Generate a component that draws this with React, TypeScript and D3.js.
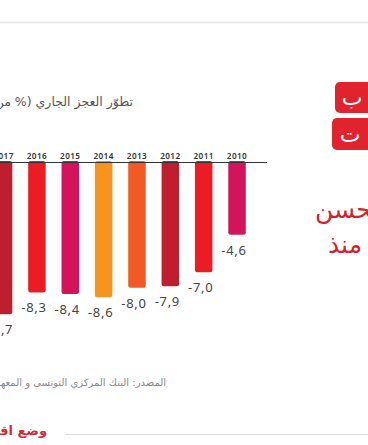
import React from "react";
import * as d3 from "d3";

const years = ["2017", "2016", "2015", "2014", "2013", "2012", "2011", "2010"];
const values = [-9.7, -8.3, -8.4, -8.6, -8.0, -7.9, -7.0, -4.6];
const colors = ["#be1e2d", "#ec1c24", "#d4145a", "#f7941d", "#f15a24", "#be1e2d", "#ec1c24", "#d4145a"];
const labels = ["-9,7", "-8,3", "-8,4", "-8,6", "-8,0", "-7,9", "-7,0", "-4,6"];

const W = 368;
const H = 445;

export default function App() {
  const x = d3.scaleBand<string>().domain(years).range([-13.1, 253.7]).paddingInner(0.475).paddingOuter(0.2375);
  const y = d3.scaleLinear().domain([0, -10]).range([163, 319]);
  const arFont = "'DejaVu Sans', sans-serif";
  const numFont = "'Noto Sans', 'Open Sans', sans-serif";
  return (
    <svg width={W} height={H} style={{ position: "absolute", left: 0, top: 0, background: "#fff" }}>
      <line x1={0} x2={W} y1={22.5} y2={22.5} stroke="#e6e6e6" strokeWidth={1.5} />
      <text x={133} y={106} direction="rtl" textAnchor="start" fontFamily={arFont} fontSize={12.5} fill="#555">
        تطوّر العجز الجاري (% من الناتج المحلي الإجمالي)
      </text>
      {years.map((yr, i) => {
        const bx = x(yr)!;
        const bw = x.bandwidth();
        const y0 = y(0);
        const y1 = y(values[i]);
        return (
          <g key={yr}>
            <rect x={bx} y={y0 - 2} width={bw} height={y1 - y0 + 2} rx={2.5} fill={colors[i]} />
            <text x={bx + bw / 2} y={159} textAnchor="middle" fontFamily={numFont} fontWeight={600} fontSize={8.2} letterSpacing={0.4} fill="#333">
              {yr}
            </text>
            <text x={bx + bw / 2 - 3} y={y1 + 20} textAnchor="middle" fontFamily={numFont} fontSize={13} letterSpacing={0.7} fill="#444">
              {labels[i]}
            </text>
          </g>
        );
      })}
      <line x1={0} x2={267} y1={162.5} y2={162.5} stroke="#333" strokeWidth={1} />
      <path d="M368,82 H340 a5,5 0 0 0 -5,5 V108 a5,5 0 0 0 5,5 H368 Z" fill="#e1232e" />
      <path d="M368,118 H337 a5,5 0 0 0 -5,5 V145 a5,5 0 0 0 5,5 H368 Z" fill="#e1232e" />
      <text x={352} y={105} textAnchor="middle" fontFamily={arFont} fontSize={22} fill="#fff">ب</text>
      <text x={350} y={142} textAnchor="middle" fontFamily={arFont} fontSize={22} fill="#fff">ت</text>
      <text x={315} y={218} direction="rtl" textAnchor="end" fontFamily={arFont} fontSize={25} fill="#d41f2d">تحسن</text>
      <text x={328} y={253} direction="rtl" textAnchor="end" fontFamily={arFont} fontSize={25} fill="#d41f2d">منذ</text>
      <text x={166} y={386} direction="rtl" textAnchor="start" fontFamily={arFont} fontSize={10} fill="#8a8a8a">
        المصدر: البنك المركزي التونسي و المعهد الوطني للإحصاء
      </text>
      <text x={47} y={435} direction="rtl" textAnchor="start" fontFamily={arFont} fontSize={13} fontWeight="bold" fill="#d42a35">
        وضع اقتصادي
      </text>
      <line x1={65} x2={W} y1={434.5} y2={434.5} stroke="#dddddd" strokeWidth={1} />
    </svg>
  );
}
